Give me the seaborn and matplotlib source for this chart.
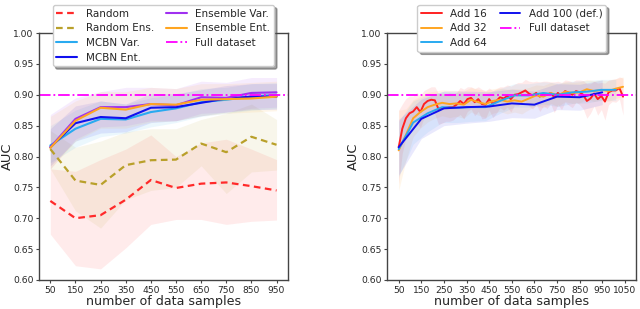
import numpy as np
import pandas as pd
import seaborn as sns
import matplotlib
matplotlib.use("Agg")
import matplotlib.pyplot as plt

# ---- left panel: acquisition functions ----
samples = [50, 150, 250, 350, 450, 550, 650, 750, 850, 950]

random_mean = [0.728, 0.700, 0.705, 0.730, 0.762, 0.749, 0.756, 0.758, 0.752, 0.745]
random_lo = [0.674, 0.623, 0.618, 0.652, 0.690, 0.698, 0.698, 0.690, 0.695, 0.697]
random_hi = [0.780, 0.776, 0.795, 0.812, 0.835, 0.800, 0.822, 0.828, 0.812, 0.795]

rens_mean = [0.812, 0.761, 0.754, 0.786, 0.794, 0.795, 0.821, 0.807, 0.832, 0.819]
rens_lo = [0.780, 0.712, 0.684, 0.730, 0.745, 0.750, 0.785, 0.740, 0.775, 0.778]
rens_hi = [0.842, 0.815, 0.825, 0.840, 0.845, 0.845, 0.860, 0.870, 0.885, 0.860]

mcbn_var = [0.818, 0.845, 0.861, 0.860, 0.872, 0.878, 0.888, 0.892, 0.897, 0.900]
mcbn_var_lo = [0.790, 0.815, 0.832, 0.838, 0.848, 0.855, 0.865, 0.870, 0.875, 0.878]
mcbn_var_hi = [0.850, 0.875, 0.890, 0.885, 0.895, 0.900, 0.910, 0.912, 0.918, 0.920]

mcbn_ent = [0.815, 0.854, 0.864, 0.862, 0.879, 0.880, 0.887, 0.894, 0.897, 0.897]
mcbn_ent_lo = [0.785, 0.825, 0.838, 0.840, 0.855, 0.858, 0.866, 0.872, 0.876, 0.876]
mcbn_ent_hi = [0.845, 0.882, 0.890, 0.885, 0.902, 0.902, 0.908, 0.915, 0.918, 0.918]

ens_var = [0.815, 0.861, 0.880, 0.880, 0.885, 0.883, 0.896, 0.895, 0.903, 0.904]
ens_var_lo = [0.780, 0.828, 0.848, 0.850, 0.858, 0.858, 0.870, 0.872, 0.878, 0.880]
ens_var_hi = [0.868, 0.895, 0.905, 0.912, 0.912, 0.910, 0.922, 0.920, 0.928, 0.928]

ens_ent = [0.814, 0.858, 0.879, 0.876, 0.885, 0.884, 0.892, 0.893, 0.894, 0.897]
ens_ent_lo = [0.780, 0.825, 0.846, 0.846, 0.856, 0.858, 0.866, 0.870, 0.872, 0.874]
ens_ent_hi = [0.865, 0.890, 0.905, 0.905, 0.912, 0.910, 0.918, 0.918, 0.920, 0.922]

full_auc = 0.90

# ---- right panel: acquisition batch size ----
x16 = [50, 66, 82, 98, 114, 130, 146, 162, 178, 194, 210, 226, 242, 258, 274, 290,
       306, 322, 338, 354, 370, 386, 402, 418, 434, 450, 466, 482, 498, 514, 530, 546,
       562, 578, 594, 610, 626, 642, 658, 674, 690, 706, 722, 738, 754, 770, 786, 802,
       818, 834, 850, 866, 882, 898, 914, 930, 946, 962, 978, 994, 1010, 1026, 1042]
add16 = [0.815, 0.845, 0.862, 0.870, 0.873, 0.880, 0.872, 0.885, 0.890, 0.892, 0.891, 0.877,
         0.878, 0.879, 0.880, 0.880, 0.884, 0.890, 0.885, 0.893, 0.895, 0.888, 0.893, 0.885,
         0.884, 0.893, 0.885, 0.890, 0.896, 0.894, 0.898, 0.893, 0.900, 0.901, 0.904, 0.907,
         0.902, 0.899, 0.903, 0.897, 0.902, 0.900, 0.903, 0.896, 0.903, 0.898, 0.906, 0.903,
         0.900, 0.906, 0.904, 0.900, 0.890, 0.894, 0.902, 0.893, 0.898, 0.889, 0.904, 0.907,
         0.907, 0.911, 0.897]
add16_err = [0.060, 0.040, 0.032, 0.028, 0.025, 0.024, 0.026, 0.022, 0.020, 0.021, 0.022, 0.025,
             0.024, 0.022, 0.023, 0.021, 0.020, 0.022, 0.024, 0.020, 0.018, 0.022, 0.020, 0.024,
             0.022, 0.018, 0.022, 0.020, 0.017, 0.019, 0.018, 0.021, 0.017, 0.019, 0.016, 0.018,
             0.020, 0.022, 0.019, 0.024, 0.020, 0.022, 0.018, 0.025, 0.019, 0.022, 0.018, 0.020,
             0.021, 0.018, 0.020, 0.023, 0.028, 0.024, 0.020, 0.026, 0.022, 0.030, 0.020, 0.018,
             0.019, 0.018, 0.030]

x32 = [50, 82, 114, 146, 178, 210, 242, 274, 306, 338, 370, 402, 434, 466, 498, 530,
       562, 594, 626, 658, 690, 722, 754, 786, 818, 850, 882, 914, 946, 978, 1010, 1042]
add32 = [0.810, 0.835, 0.862, 0.872, 0.880, 0.884, 0.887, 0.885, 0.886, 0.884, 0.892, 0.888,
         0.885, 0.890, 0.892, 0.889, 0.891, 0.889, 0.894, 0.899, 0.897, 0.903, 0.899, 0.905,
         0.903, 0.904, 0.909, 0.906, 0.908, 0.906, 0.910, 0.913]
add32_err = [0.065, 0.042, 0.030, 0.026, 0.024, 0.022, 0.021, 0.022, 0.021, 0.022, 0.020, 0.021,
             0.022, 0.020, 0.019, 0.020, 0.019, 0.020, 0.018, 0.017, 0.018, 0.017, 0.018, 0.016,
             0.017, 0.017, 0.016, 0.017, 0.016, 0.017, 0.016, 0.016]

x64 = [50, 114, 178, 242, 306, 370, 434, 498, 562, 626, 690, 754, 818, 882, 946, 1010]
add64 = [0.812, 0.855, 0.870, 0.880, 0.879, 0.880, 0.880, 0.890, 0.899, 0.899, 0.903, 0.900,
         0.904, 0.905, 0.908, 0.908]
add64_err = [0.045, 0.035, 0.030, 0.025, 0.024, 0.023, 0.022, 0.020, 0.019, 0.019, 0.018, 0.019,
             0.018, 0.018, 0.017, 0.017]

x100 = [50, 150, 250, 350, 450, 550, 650, 750, 850, 950]
add100 = [0.815, 0.861, 0.878, 0.880, 0.881, 0.886, 0.884, 0.897, 0.896, 0.904]
add100_err = [0.045, 0.032, 0.028, 0.026, 0.024, 0.023, 0.022, 0.021, 0.021, 0.020]

right_ticks = [50, 150, 250, 350, 450, 550, 650, 750, 850, 950, 1050]
y_ticks = [0.6, 0.65, 0.7, 0.75, 0.8, 0.85, 0.9, 0.95, 1.0]

sns.set_style("ticks")
plt.rcParams['font.family'] = ['DejaVu Sans']

fig, (ax1, ax2) = plt.subplots(1, 2, figsize=(6.4, 3.09), dpi=100)
fig.subplots_adjust(left=0.061, right=0.994, top=0.893, bottom=0.094, wspace=0.40)

left_series = [
    ("Random", random_mean, random_lo, random_hi, "#ff2a2a", (0, (3, 2)), 1.6),
    ("Random Ens.", rens_mean, rens_lo, rens_hi, "#b9a02a", (0, (3, 2)), 1.6),
    ("MCBN Var.", mcbn_var, mcbn_var_lo, mcbn_var_hi, "#29aaf0", "-", 1.5),
    ("MCBN Ent.", mcbn_ent, mcbn_ent_lo, mcbn_ent_hi, "#1010ee", "-", 1.5),
    ("Ensemble Var.", ens_var, ens_var_lo, ens_var_hi, "#a030f0", "-", 1.5),
    ("Ensemble Ent.", ens_ent, ens_ent_lo, ens_ent_hi, "#ffa520", "-", 1.5),
]

for name, m, lo, hi, c, ls, lw in left_series:
    df = pd.DataFrame({"x": samples, "y": m})
    sns.lineplot(data=df, x="x", y="y", ax=ax1, color=c, linestyle=ls, lw=lw, label=name)
    ax1.fill_between(samples, lo, hi, color=c, alpha=0.09, lw=0)
ax1.axhline(full_auc, color="magenta", linestyle="-.", lw=1.3, label="Full dataset")

right_series = [
    ("Add 16", x16, add16, add16_err, "#ff2020"),
    ("Add 32", x32, add32, add32_err, "#ffa520"),
    ("Add 64", x64, add64, add64_err, "#29aaf0"),
    ("Add 100 (def.)", x100, add100, add100_err, "#1010ee"),
]
for name, xs, m, e, c in right_series:
    df = pd.DataFrame({"x": xs, "y": m})
    sns.lineplot(data=df, x="x", y="y", ax=ax2, color=c, lw=1.4, label=name)
    lo = np.array(m) - np.array(e)
    hi = np.array(m) + np.array(e)
    ax2.fill_between(xs, lo, hi, color=c, alpha=0.09, lw=0)
ax2.axhline(full_auc, color="magenta", linestyle="-.", lw=1.3, label="Full dataset")

for ax, ticks, xlim, ylab_x in [(ax1, samples, (5, 995), -0.102),
                                (ax2, right_ticks, (0, 1100), -0.11)]:
    ax.set_ylim(0.6, 1.0)
    ax.set_xlim(*xlim)
    ax.set_xticks(ticks)
    ax.set_yticks(y_ticks)
    ax.set_yticklabels([f"{v:.2f}" for v in y_ticks])
    ax.tick_params(labelsize=6.6, length=2.5, pad=1.5, color="#444444")
    ax.set_xlabel("number of data samples", fontsize=9.1)
    ax.set_ylabel("AUC", fontsize=9.4)
    ax.yaxis.set_label_coords(ylab_x, 0.5)
    ax.xaxis.set_label_coords(0.5, -0.062)
    for s in ax.spines.values():
        s.set_color("#444444")
        s.set_linewidth(1.0)
    ax.legend(loc="upper center", bbox_to_anchor=(0.5, 1.135), ncol=2, fontsize=7.5,
              frameon=True, shadow=True, fancybox=True, columnspacing=1.2,
              handlelength=2.0, borderpad=0.35, labelspacing=0.45)

fig.savefig("out.png", dpi=100)
